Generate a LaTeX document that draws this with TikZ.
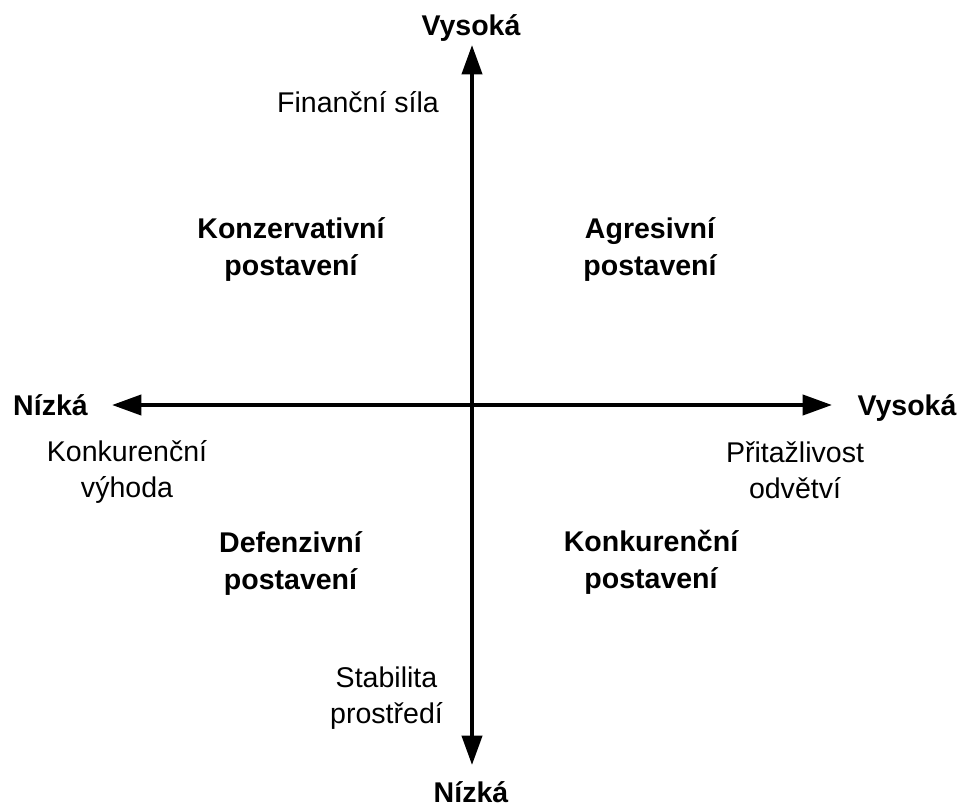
\documentclass[tikz,border=0pt]{standalone}
\usepackage{fontspec}
\setmainfont{Liberation Sans}
\usetikzlibrary{arrows.meta}
\tikzset{
  axis/.style={line width=3pt, -{Triangle[length=22pt,width=15pt]}},
  lbl/.style={anchor=base, inner sep=0pt, align=center,
    font=\fontsize{21.4pt}{26.3pt}\selectfont},
  blbl/.style={lbl, font=\fontsize{21.4pt}{27.6pt}\selectfont\bfseries}
}
\begin{document}
\begin{tikzpicture}[x=0.75pt,y=-0.75pt]
\useasboundingbox (0,0) rectangle (963,807);
% axis centre and arrow ends
\coordinate (o) at (472,405);
\coordinate (top) at (472,45);
\coordinate (bot) at (472,765);
\coordinate (lft) at (112,405);
\coordinate (rgt) at (832,405);
\draw[axis] (o) -- (top);
\draw[axis] (o) -- (bot);
\draw[axis] (o) -- (lft);
\draw[axis] (o) -- (rgt);
% axis end labels (base = baseline of the last line)
\node[blbl] (hiV) at (471,35) {Vysoká};
\node[blbl] (loV) at (471,802) {Nízká};
\node[blbl] (loH) at (50.5,415) {Nízká};
\node[blbl] (hiH) at (907,415) {Vysoká};
% axis names
\node[lbl] (fin) at (358,112) {Finanční síla};
\node[lbl] (konv) at (127,497) {Konkurenční\\výhoda};
\node[lbl] (prit) at (795,498) {Přitažlivost\\odvětví};
\node[lbl] (stab) at (386.5,723) {Stabilita\\prostředí};
% quadrants
\node[blbl] (q1) at (291,275) {Konzervativní\\postavení};
\node[blbl] (q2) at (650,275) {Agresivní\\postavení};
\node[blbl] (q3) at (290.5,589) {Defenzivní\\postavení};
\node[blbl] (q4) at (651,588) {Konkurenční\\postavení};
\end{tikzpicture}
\end{document}
